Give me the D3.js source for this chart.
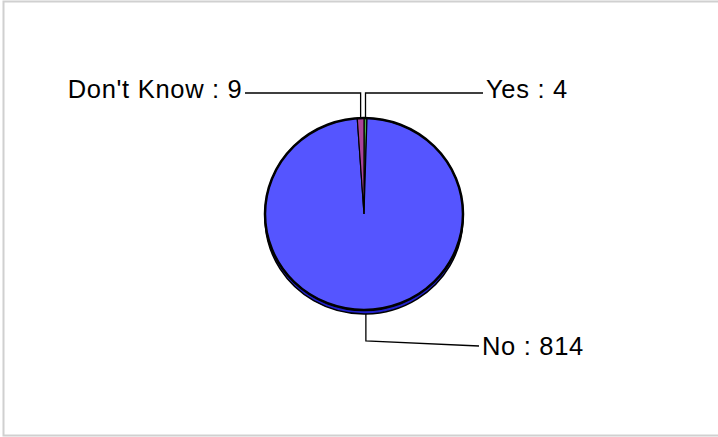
<!DOCTYPE html>
<html>
<head>
<meta charset="utf-8">
<script src="https://cdn.jsdelivr.net/npm/d3@7"></script>
<style>
  body { margin: 0; background: #fff; }
  text { font-family: "Liberation Sans", Arial, sans-serif; }
</style>
</head>
<body>
<svg width="718" height="437"></svg>
<script>
// data
const categories = ["Yes", "No", "Don't Know"];
const counts = [4, 814, 9];
const colors = ["#44aa44", "#5555ff", "#aa4499"];
const sideColors = ["#226622", "#2222cc", "#662255"];

const svg = d3.select('svg');
const width = +svg.attr('width');
const height = +svg.attr('height');

// frame
svg.append('rect')
  .attr('x', 3.5).attr('y', 1.5)
  .attr('width', width + 10).attr('height', 434)
  .attr('fill', '#fff')
  .attr('stroke', '#d0d0d0')
  .attr('stroke-width', 2);

const cx = 364, cy = 214;
const rx = 99, ry = 96;
const depth = 4;

const data = categories.map((c, i) => ({ name: c, value: counts[i], color: colors[i], side: sideColors[i] }));

const pie = d3.pie().sort(null).value(d => d.value);
const arcs = pie(data);
const arc = d3.arc().innerRadius(0).outerRadius(rx);

// 3d edge: the same pie drawn lower, underneath
const underG = svg.append('g')
  .attr('transform', `translate(${cx},${cy + depth}) scale(1,${ry / rx})`);
underG.selectAll('path')
  .data(arcs)
  .join('path')
  .attr('d', arc)
  .attr('fill', d => d.data.side)
  .attr('stroke', '#000')
  .attr('stroke-width', 1.5)
  .attr('vector-effect', 'non-scaling-stroke');

const faceG = svg.append('g')
  .attr('transform', `translate(${cx},${cy}) scale(1,${ry / rx})`);
faceG.selectAll('path')
  .data(arcs)
  .join('path')
  .attr('d', arc)
  .attr('fill', d => d.data.color)
  .attr('stroke', '#000')
  .attr('stroke-width', 1.2)
  .attr('vector-effect', 'non-scaling-stroke');

// outer rim drawn thicker
svg.append('ellipse')
  .attr('cx', cx).attr('cy', cy)
  .attr('rx', rx).attr('ry', ry)
  .attr('fill', 'none')
  .attr('stroke', '#000')
  .attr('stroke-width', 2.5);

// labels with elbow leader lines
const labels = svg.append('g');
arcs.forEach(d => {
  const mid = (d.startAngle + d.endAngle) / 2;
  const px = cx + Math.sin(mid) * rx;
  const isTop = Math.cos(mid) > 0;
  const py = isTop ? cy - Math.cos(mid) * ry : cy - Math.cos(mid) * ry + depth;
  const ly = isTop ? cy - ry - 25 : cy + ry + 31;
  const right = d.data.name !== "Don't Know";
  const ex = right ? cx + (isTop ? 119 : 115) : cx - 119;
  const ey = isTop ? ly : ly + 5;
  labels.append('path')
    .attr('d', `M${px},${py}L${px},${ly}L${ex},${ey}`)
    .attr('fill', 'none')
    .attr('stroke', '#000')
    .attr('stroke-width', 1.3);
  labels.append('text')
    .attr('x', right ? ex + 3 : ex - 2.5)
    .attr('y', ey + (isTop ? 5 : 9))
    .attr('text-anchor', right ? 'start' : 'end')
    .style('font-size', '25.5px')
    .style('letter-spacing', '0.7px')
    .text(`${d.data.name} : ${d.data.value}`);
});
</script>
</body>
</html>
